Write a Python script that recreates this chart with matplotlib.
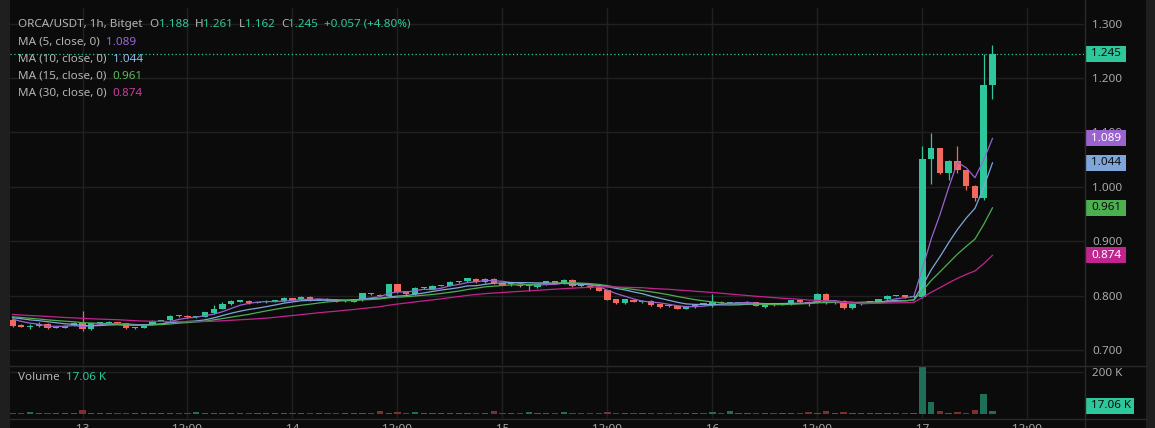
import numpy as np
import pandas as pd
import matplotlib
matplotlib.use("Agg")
import matplotlib.pyplot as plt
from matplotlib.patches import Rectangle

# ---------------- data ----------------
x_tick_labels = ["13", "12:00", "14", "12:00", "15", "12:00", "16", "12:00", "17", "12:00"]
x_tick_index = [8, 20, 32, 44, 56, 68, 80, 92, 104, 116]

opens = [0.756, 0.746, 0.743, 0.744, 0.748, 0.741, 0.741, 0.745, 0.750, 0.738,
         0.749, 0.750, 0.751, 0.749, 0.741, 0.741, 0.747, 0.754, 0.755, 0.763,
         0.763, 0.761, 0.761, 0.768, 0.776, 0.784, 0.789, 0.790, 0.787, 0.788,
         0.790, 0.790, 0.795, 0.793, 0.798, 0.792, 0.794, 0.792, 0.790, 0.789,
         0.791, 0.804, 0.802, 0.799, 0.821, 0.808, 0.803, 0.814, 0.813, 0.818,
         0.818, 0.825, 0.826, 0.831, 0.825, 0.831, 0.823, 0.821, 0.820, 0.817,
         0.815, 0.821, 0.826, 0.822, 0.828, 0.818, 0.817, 0.815, 0.810, 0.793,
         0.786, 0.792, 0.789, 0.790, 0.784, 0.782, 0.780, 0.776, 0.779, 0.786,
         0.783, 0.789, 0.787, 0.786, 0.786, 0.788, 0.779, 0.784, 0.783, 0.784,
         0.791, 0.789, 0.787, 0.803, 0.786, 0.790, 0.777, 0.784, 0.788, 0.787,
         0.793, 0.800, 0.801, 0.797, 0.798, 1.052, 1.071, 1.025, 1.047, 1.030,
         1.002, 0.980, 1.188]
highs = [0.758, 0.747, 0.748, 0.752, 0.749, 0.743, 0.746, 0.751, 0.772, 0.750,
         0.752, 0.754, 0.752, 0.750, 0.743, 0.748, 0.755, 0.756, 0.764, 0.764,
         0.764, 0.763, 0.770, 0.782, 0.788, 0.791, 0.792, 0.791, 0.789, 0.791,
         0.791, 0.797, 0.796, 0.799, 0.799, 0.794, 0.795, 0.793, 0.791, 0.794,
         0.805, 0.805, 0.803, 0.822, 0.822, 0.809, 0.815, 0.816, 0.819, 0.820,
         0.826, 0.827, 0.833, 0.832, 0.832, 0.832, 0.824, 0.825, 0.821, 0.821,
         0.822, 0.827, 0.827, 0.831, 0.830, 0.819, 0.818, 0.816, 0.811, 0.794,
         0.794, 0.793, 0.792, 0.791, 0.785, 0.783, 0.781, 0.781, 0.784, 0.787,
         0.803, 0.790, 0.789, 0.788, 0.790, 0.789, 0.785, 0.785, 0.785, 0.792,
         0.792, 0.790, 0.804, 0.805, 0.791, 0.791, 0.785, 0.789, 0.790, 0.794,
         0.801, 0.802, 0.802, 0.801, 1.075, 1.098, 1.072, 1.050, 1.075, 1.031,
         1.003, 1.244, 1.261]
lows = [0.743, 0.742, 0.739, 0.742, 0.739, 0.740, 0.740, 0.744, 0.735, 0.736,
        0.748, 0.749, 0.748, 0.739, 0.738, 0.740, 0.746, 0.753, 0.754, 0.761,
        0.759, 0.759, 0.760, 0.767, 0.775, 0.783, 0.788, 0.785, 0.786, 0.787,
        0.789, 0.789, 0.791, 0.792, 0.790, 0.791, 0.790, 0.788, 0.789, 0.788,
        0.790, 0.802, 0.799, 0.798, 0.805, 0.802, 0.802, 0.813, 0.812, 0.817,
        0.817, 0.824, 0.825, 0.824, 0.824, 0.822, 0.819, 0.817, 0.816, 0.808,
        0.814, 0.820, 0.821, 0.821, 0.815, 0.816, 0.813, 0.808, 0.791, 0.785,
        0.785, 0.788, 0.786, 0.780, 0.778, 0.779, 0.775, 0.775, 0.778, 0.783,
        0.779, 0.786, 0.786, 0.785, 0.785, 0.780, 0.778, 0.781, 0.782, 0.783,
        0.787, 0.781, 0.786, 0.785, 0.785, 0.776, 0.776, 0.783, 0.787, 0.786,
        0.792, 0.799, 0.796, 0.796, 0.796, 1.006, 1.024, 1.012, 1.026, 0.995,
        0.973, 0.975, 1.162]
closes = [0.745, 0.743, 0.744, 0.748, 0.740, 0.742, 0.745, 0.750, 0.738, 0.749,
          0.751, 0.752, 0.749, 0.740, 0.742, 0.747, 0.754, 0.755, 0.763, 0.762,
          0.760, 0.762, 0.769, 0.776, 0.785, 0.790, 0.791, 0.786, 0.788, 0.790,
          0.790, 0.795, 0.792, 0.798, 0.791, 0.793, 0.791, 0.789, 0.790, 0.793,
          0.804, 0.803, 0.800, 0.821, 0.806, 0.803, 0.814, 0.814, 0.818, 0.819,
          0.825, 0.826, 0.832, 0.825, 0.831, 0.823, 0.820, 0.821, 0.817, 0.817,
          0.821, 0.826, 0.822, 0.828, 0.817, 0.817, 0.814, 0.809, 0.792, 0.786,
          0.793, 0.789, 0.789, 0.783, 0.779, 0.780, 0.776, 0.780, 0.783, 0.784,
          0.789, 0.787, 0.787, 0.786, 0.789, 0.781, 0.784, 0.782, 0.784, 0.791,
          0.788, 0.786, 0.803, 0.786, 0.790, 0.777, 0.784, 0.788, 0.789, 0.793,
          0.800, 0.801, 0.797, 0.800, 1.052, 1.071, 1.025, 1.047, 1.030, 1.002,
          0.980, 1.188, 1.245]
# closes before the first visible candle (only feed the moving averages)
prior_closes = [0.772, 0.775, 0.770, 0.768, 0.771, 0.774, 0.769, 0.766, 0.770, 0.772,
                0.768, 0.765, 0.767, 0.770, 0.766, 0.763, 0.765, 0.768, 0.764, 0.761,
                0.763, 0.766, 0.762, 0.759, 0.761, 0.764, 0.760, 0.758, 0.757]
volumes_k = [6, 5, 11, 6, 5, 5, 5, 6, 20, 6,
             5, 5, 5, 5, 5, 5, 5, 5, 5, 5,
             5, 9, 5, 5, 6, 5, 5, 5, 5, 5,
             5, 5, 5, 5, 5, 5, 5, 5, 5, 5,
             5, 5, 14, 5, 9, 5, 9, 5, 5, 5,
             5, 5, 5, 5, 5, 14, 5, 5, 5, 9,
             5, 5, 5, 9, 5, 5, 5, 5, 9, 5,
             5, 5, 5, 5, 5, 5, 5, 5, 5, 5,
             9, 5, 18, 5, 5, 5, 5, 5, 5, 5,
             5, 10, 5, 14, 5, 9, 5, 5, 5, 5,
             5, 5, 5, 5, 227, 60, 16, 8, 11, 8,
             21, 98, 17.06]
ma_periods = [5, 10, 15, 30]
ma_colors = ["#9a63d0", "#7ea6da", "#4caf50", "#c2248f"]
ma_text_colors = ["#9a6ad2", "#8fb6e6", "#5cb85c", "#cc3d9d"]
ma_badge_text = ["#ffffff", "#0d0d0d", "#0d0d0d", "#ffffff"]

# ---------------- style ----------------
W, H = 1155, 428
BG = "#0b0b0b"
BORDER = "#1f1f1f"
GRID = "#202020"
SEP = "#2a2a2a"
UP = "#2ec79b"
DOWN = "#f26a5d"
VUP = "#1f6e58"
VDOWN = "#7d2f31"
TXT = "#b5b5b5"
AXT = "#a9a9a9"
FONT = ["Noto Sans", "DejaVu Sans"]
FS = 8.4

plt.rcParams["font.family"] = FONT

fig = plt.figure(figsize=(W / 100, H / 100), dpi=100, facecolor=BG)


def rect(x0, y0, x1, y1):
    return [x0 / W, 1 - y1 / H, (x1 - x0) / W, (y1 - y0) / H]


O = np.array(opens)
Hh = np.array(highs)
L = np.array(lows)
C = np.array(closes)
V = np.array(volumes_k) * 1000
n = len(C)
idx = np.arange(n)
up = C >= O

XL = (-0.286, 122.46)

# ---------------- price pane ----------------
ax = fig.add_axes(rect(10, 8, 1084, 365))
ax.set_facecolor(BG)
ax.set_xlim(*XL)
ax.set_ylim(0.6724, 1.3287)
ax.set_xticks(x_tick_index)
ax.set_yticks([0.7, 0.8, 0.9, 1.0, 1.1, 1.2, 1.3])
ax.grid(True, color=GRID, lw=1)
ax.set_axisbelow(True)
ax.tick_params(length=0, labelbottom=False, labelleft=False, labelright=True,
               colors=AXT, labelsize=FS, pad=6.0)
ax.yaxis.set_major_formatter(matplotlib.ticker.FormatStrFormatter("%.3f"))
for s in ax.spines.values():
    s.set_visible(False)

cols = np.where(up, UP, DOWN)
ax.vlines(idx, L, Hh, colors=cols, lw=0.9, zorder=3)
body = np.maximum(np.abs(C - O), 0.0018)
ax.bar(idx, body, bottom=np.minimum(O, C), width=0.74, color=cols, zorder=4, lw=0)

allc = pd.Series(prior_closes + closes)
for p, c in zip(ma_periods, ma_colors):
    ma = allc.rolling(p).mean().iloc[len(prior_closes):].to_numpy()
    ax.plot(idx, ma, color=c, lw=0.9, zorder=5)

ax.axhline(C[-1], color=UP, lw=0.9, ls=(0, (1, 2)), zorder=2)

# ---------------- volume pane ----------------
axv = fig.add_axes(rect(10, 366, 1084, 418))
axv.set_facecolor(BG)
axv.set_xlim(*XL)
axv.set_ylim(-17.6e3, 230e3)
axv.set_xticks(x_tick_index)
axv.set_xticklabels(x_tick_labels)
axv.set_yticks([200e3])
axv.set_yticklabels(["200 K"])
axv.grid(True, color=GRID, lw=1)
axv.set_axisbelow(True)
axv.tick_params(length=0, labelleft=False, labelright=True, colors=AXT,
                labelsize=FS, pad=6.0)
axv.tick_params(axis="x", pad=4.5)
for s in axv.spines.values():
    s.set_visible(False)
axv.bar(idx, V, width=0.74, color=np.where(up, VUP, VDOWN), lw=0, zorder=3)

# ---------------- overlay (frames, legend text, badges) ----------------
ov = fig.add_axes([0, 0, 1, 1], facecolor="none")
ov.set_xlim(0, W)
ov.set_ylim(H, 0)
ov.axis("off")
ov.add_patch(Rectangle((0, 0), 10, H, color=BORDER, lw=0))
ov.add_patch(Rectangle((1146, 0), W - 1146, H, color=BORDER, lw=0))
ov.plot([1084.5, 1084.5], [0, H], color=SEP, lw=1)
ov.plot([10, 1146], [365.5, 365.5], color=SEP, lw=1)
ov.plot([10, 1146], [418.5, 418.5], color=SEP, lw=1)

fig.canvas.draw()
renderer = fig.canvas.get_renderer()


def seq(x, y, parts):
    for s, c, gap in parts:
        t = ov.text(x, y, s, color=c, fontsize=FS, va="center", ha="left")
        bb = t.get_window_extent(renderer)
        x += bb.width + gap


def price_y(p):
    return H - ax.transData.transform((0, p))[1]


chg = C[-1] - O[-1]
pct = chg / O[-1] * 100
seq(18, 24, [("ORCA/USDT, 1h, Bitget", TXT, 7),
             ("O", TXT, 0), (f"{O[-1]:.3f}", UP, 6),
             ("H", TXT, 0), (f"{Hh[-1]:.3f}", UP, 6),
             ("L", TXT, 0), (f"{L[-1]:.3f}", UP, 6),
             ("C", TXT, 0), (f"{C[-1]:.3f}", UP, 6),
             (f"+{chg:.3f} (+{pct:.2f}%)", UP, 0)])

ma_last = []
for k, (p, c) in enumerate(zip(ma_periods, ma_text_colors)):
    v = allc.rolling(p).mean().iloc[-1]
    ma_last.append(v)
    seq(18, 42 + 17 * k, [(f"MA ({p}, close, 0)", TXT, 6), (f"{v:.3f}", c, 0)])

seq(18, 377, [("Volume", TXT, 6), (f"{V[-1] / 1000:.2f} K", UP, 0)])


def badge(yc, text, fc, tc, x1=1126):
    ov.add_patch(Rectangle((1084.5, yc - 8), x1 - 1084.5, 16, color=fc, lw=0))
    ov.text(1091, yc, text, color=tc, fontsize=FS, va="center", ha="left")


badge(price_y(C[-1]), f"{C[-1]:.3f}", UP, "#0d0d0d")
for v, c, tc in zip(ma_last, ma_colors, ma_badge_text):
    badge(price_y(v), f"{v:.3f}", c, tc)
badge(405.5, f"{V[-1] / 1000:.2f} K", UP, "#0d0d0d", x1=1134)

fig.savefig("out.png", dpi=100, facecolor=BG)
